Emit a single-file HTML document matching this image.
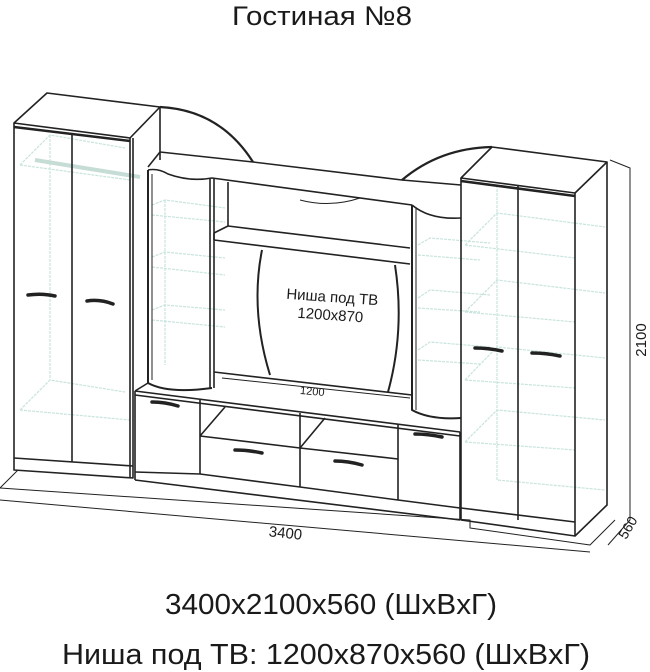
<!DOCTYPE html>
<html><head><meta charset="utf-8"><style>
body{margin:0;background:#fff;width:650px;height:672px;overflow:hidden}
svg{position:absolute;left:0;top:0}
.t{font-family:"Liberation Sans",sans-serif;fill:#1a1a1a}
</style></head><body>
<svg width="650" height="672" viewBox="0 0 650 672">
<g stroke="#c8e4de" stroke-width="1.2" fill="none" stroke-dasharray="3 1">
<path d="M20 165 L50 135 L125 148 M20 165 L130 180"/>
<path d="M20 410 L50 380 L125 392 M20 410 L130 420 M50 135 L50 380"/>
<path d="M35 160 L140 177" stroke="#c6dcd6" stroke-width="4" stroke-dasharray="none"/>
<path d="M152 205 L165 200 L225 208 M152 215 L225 222"/>
<path d="M152 257 L165 252 L225 258 M152 267 L225 275"/>
<path d="M152 310 L165 305 L225 310 M152 320 L225 327"/>
<path d="M165 200 L165 365"/>
<path d="M418 245 L430 238 L490 243 M418 255 L480 260"/>
<path d="M418 298 L430 290 L490 295 M418 308 L480 312"/>
<path d="M418 350 L430 342 L490 347 M418 360 L480 364"/>
<path d="M465 245 L497 213 L605 227 M465 245 L575 258"/>
<path d="M465 312 L497 280 L605 293 M465 312 L575 322"/>
<path d="M465 380 L497 347 L605 358 M465 380 L575 388"/>
<path d="M465 442 L497 410 L605 420 M465 442 L575 450"/>
<path d="M497 185 L497 480 L605 490"/>
</g>
<g stroke="#222" stroke-width="1.6" fill="none" stroke-linejoin="round">
<path d="M0 488 L18 470 M0 488 L470 520 L470 528 L590 545 L615 520" stroke-width="1"/>
<path d="M0 500 L590 552" stroke-width="1"/>
<path d="M610 160 L630 168 L630 520 L608 545" stroke-width="1"/>
<path d="M14 123 L47 93 L160 107 L130 138 Z"/>
<path d="M14 123 L14 470 L133 478 L133 138" />
<path d="M14 127 L130 141" stroke-width="2.5"/>
<path d="M72 133 L72 462"/>
<path d="M14 458 L133 466"/>
<path d="M160 107 L160 160" />
<path d="M130 138 L130 478"/>
<path d="M160 107 Q220 110 253 162" stroke-width="2.2"/>
<path d="M402 180 Q440 148 492 147" stroke-width="2.2"/>
<path d="M148 167 L160 152 L253 162 L402 180 L461 185"/>
<path d="M148 170 Q158 168 168 174 Q190 182 212 178 L412 205"/>
<path d="M412 205 Q430 220 461 218"/>
<path d="M148 170 L148 383 Q168 394 212 388" stroke-width="2"/>
<path d="M152 174 L152 380" stroke-width="1"/>
<path d="M210 178 L210 388 M214 178 L214 388"/>
<path d="M412 205 L412 410 Q430 420 461 418" stroke-width="2"/>
<path d="M416 207 L416 410" stroke-width="1"/>
<path d="M228 182 L228 226 M214 233 L228 226 L410 248 M214 240 L410 264 M214 233 L214 240"/>
<path d="M300 200 Q330 208 360 198" stroke-width="1"/>
<path d="M262 250 Q250 310 270 375" stroke-width="2"/>
<path d="M395 265 Q405 330 388 392" stroke-width="2"/>
<path d="M214 372 L412 395"/>
<path d="M135 391 L148 383 M135 391 L460 432 M135 395 L460 436"/>
<path d="M135 391 L135 480 M200 400 L200 474 M300 413 L300 487 M398 424 L398 500 M460 432 L460 520"/>
<path d="M200 436 L300 448 M300 448 L398 459 M200 474 L300 487 L398 500 L460 508"/>
<path d="M135 472 L200 474"/>
<path d="M200 436 L225 407 M300 448 L325 418"/>
<path d="M135 480 L460 520"/>
<path d="M222 378 L410 398" stroke-width="1"/>
<path d="M461 178 L492 147 L607 162 L575 193 Z"/>
<path d="M461 181 L575 196" stroke-width="2.5"/>
<path d="M461 178 L461 520 L575 536 L575 193"/>
<path d="M607 162 L607 505 L575 536"/>
<path d="M518 185 L518 520"/>
<path d="M461 508 L575 522"/>
</g>
<g stroke="#222" stroke-width="3.5" stroke-linecap="round" fill="none">
<path d="M28 295 Q42 293 55 296"/><path d="M87 301 Q100 299 113 304"/>
<path d="M152 402 Q165 402 178 406"/><path d="M235 450 Q248 450 262 453"/><path d="M335 461 Q348 461 362 465"/><path d="M415 434 Q428 434 442 437"/>
<path d="M475 348 Q488 348 502 351"/><path d="M532 353 Q546 353 560 356"/>
</g>
<text class="t" x="322" y="25" font-size="27" text-anchor="middle" textLength="180" lengthAdjust="spacingAndGlyphs">Гостиная №8</text>
<text class="t" x="332" y="302" font-size="15" text-anchor="middle" transform="rotate(4 332 302)">Ниша под ТВ</text>
<text class="t" x="330" y="320" font-size="15" text-anchor="middle" transform="rotate(4 330 320)">1200x870</text>
<text class="t" x="312" y="395" font-size="11" text-anchor="middle" transform="rotate(5 312 395)">1200</text>
<text class="t" x="285" y="538" font-size="15" text-anchor="middle" transform="rotate(6 285 538)">3400</text>
<text class="t" x="646" y="340" font-size="15" text-anchor="middle" transform="rotate(-90 646 340)">2100</text>
<text class="t" x="632" y="530" font-size="14" text-anchor="middle" transform="rotate(-60 632 530)">560</text>
<text class="t" x="331" y="614" font-size="29" text-anchor="middle" textLength="332" lengthAdjust="spacingAndGlyphs">3400x2100x560 (ШxВxГ)</text>
<text class="t" x="326" y="664" font-size="29" text-anchor="middle" textLength="528" lengthAdjust="spacingAndGlyphs">Ниша под ТВ: 1200x870x560 (ШxВxГ)</text>
</svg>
</body></html>
